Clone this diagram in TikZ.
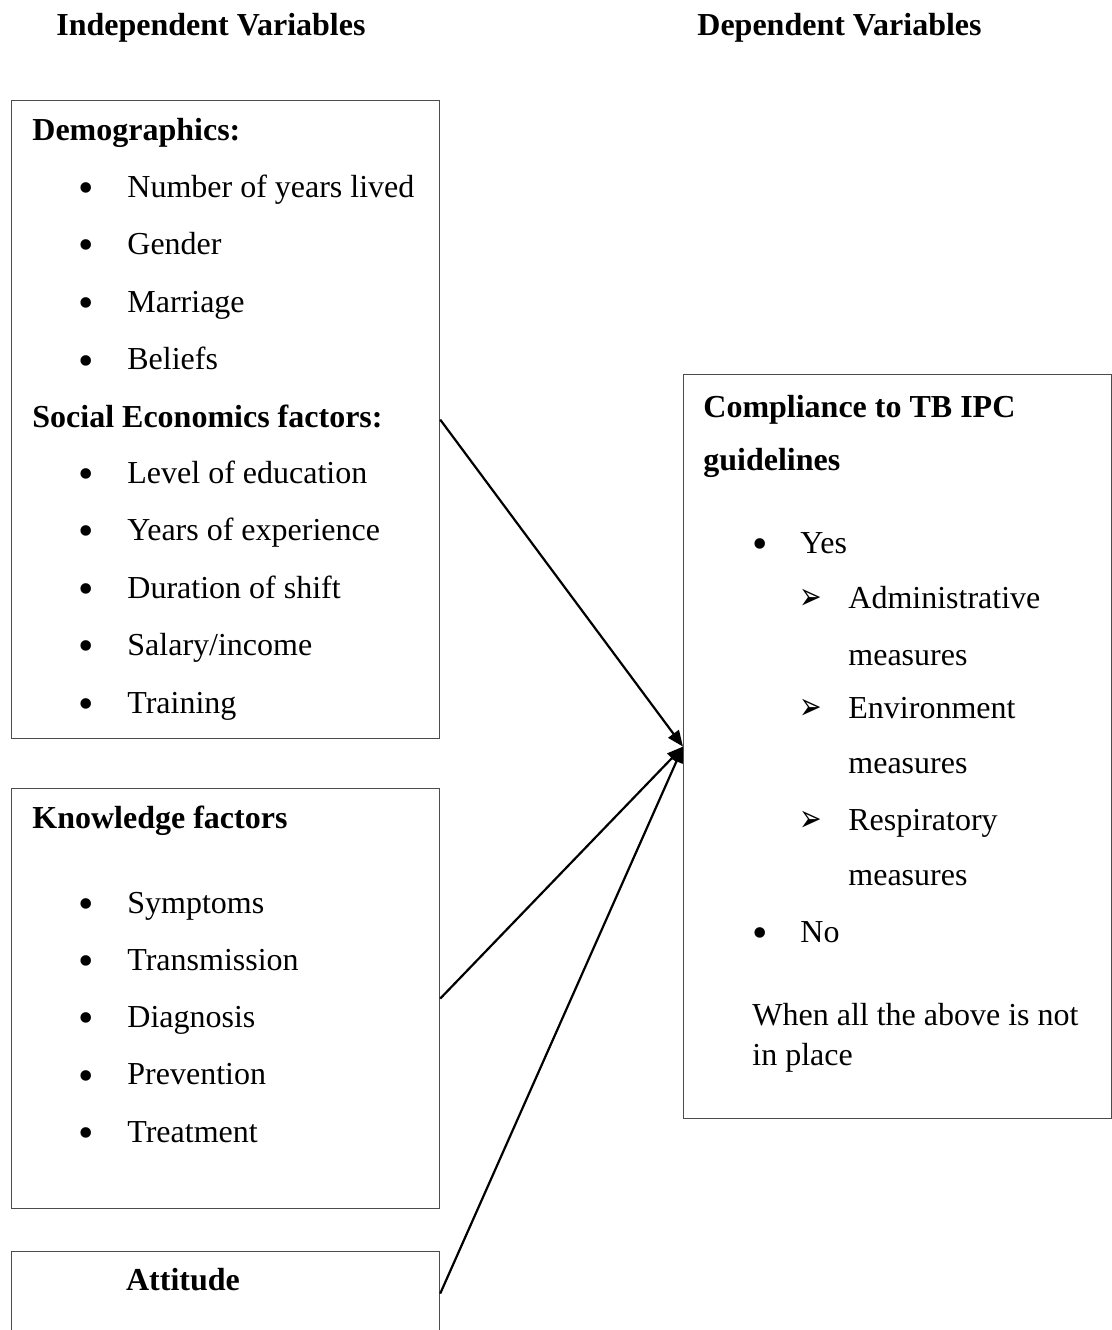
\documentclass[tikz,border=0pt]{standalone}
\usepackage{fontspec}
\setmainfont{Liberation Serif}
\newfontfamily\dingfont{DejaVu Sans}
\usetikzlibrary{positioning, arrows.meta}
\tikzset{
box/.style={draw=black!70, line width=0.6pt, rectangle, anchor=north west, inner sep=0pt}, % frame round one group of variables
head/.style={font=\fontsize{16}{19}\selectfont\bfseries, anchor=base west, inner sep=0pt}, % bold headings
item/.style={font=\fontsize{16}{19}\selectfont, anchor=base west, inner sep=0pt}, % list entries
link/.style={-{Triangle[length=8pt,width=6.5pt]}, line width=1.1pt}, % arrows into the outcome box
}
\newcommand{\bul}{\llap{\raisebox{-2.6pt}{\fontsize{22}{22}\selectfont\textbullet}\hspace{16.5pt}}}
\newcommand{\arr}{\llap{\raisebox{-0.5pt}{\scalebox{1.35}[1.9]{\dingfont\fontsize{10}{12}\selectfont ➢}}\hspace{13pt}}}

\begin{document}
\begin{tikzpicture}[x=0.5pt, y=-0.5pt]
\useasboundingbox (0,0) rectangle (1112,1330);
\clip (0,0) rectangle (1112,1330);

% column titles
\node[head] (indep) at (56,35) {Independent Variables};
\node[head] (dep) at (697,35) {Dependent Variables};

% frames
\node[box, minimum width=214pt, minimum height=319pt] (demo) at (11,100) {};
\node[box, minimum width=214pt, minimum height=210pt] (know) at (11,788) {};
\node[box, minimum width=214pt, minimum height=42pt] (att) at (11,1251) {};
\node[box, minimum width=214pt, minimum height=372pt] (comp) at (683,374) {};

% demographics and social economics
\node[head] (demo-title) at (32,140) {Demographics:};
\foreach \txt [count=\i] in {Number of years lived, Gender, Marriage, Beliefs}
  \node[item] (demo-\i) at (127,{197+57.6*(\i-1)}) {\bul\txt};
\node[head] (soc-title) at (32,427) {Social Economics factors:};
\foreach \txt [count=\i] in {Level of education, Years of experience, Duration of shift, Salary/income, Training}
  \node[item] (soc-\i) at (127,{483+57.5*(\i-1)}) {\bul\txt};

% knowledge
\node[head] (know-title) at (32,828) {Knowledge factors};
\foreach \txt [count=\i] in {Symptoms, Transmission, Diagnosis, Prevention, Treatment}
  \node[item] (know-\i) at (127,{913+57.3*(\i-1)}) {\bul\txt};

% attitude
\node[head, anchor=base] (att-title) at (183,1290) {Attitude};

% compliance
\node[head] (comp-title1) at (703,417) {Compliance to TB IPC};
\node[head] (comp-title2) at (703,470) {guidelines};
\node[item] (yes) at (800,553) {\bul Yes};
\node[item] (adm) at (848,608) {\arr Administrative};
\node[item] (adm-2) at (848,665) {measures};
\node[item] (env) at (848,718) {\arr Environment};
\node[item] (env-2) at (848,773) {measures};
\node[item] (resp) at (848,830) {\arr Respiratory};
\node[item] (resp-2) at (848,885) {measures};
\node[item] (no) at (800,942) {\bul No};
\node[item] (note-1) at (752,1025) {When all the above is not};
\node[item] (note-2) at (752,1065) {in place};

% arrows
\draw[link] (demo.east) -- (comp.west);
\draw[link] (know.east) -- (comp.west);
\draw[link] (att.east) -- (comp.west);
\end{tikzpicture}
\end{document}
